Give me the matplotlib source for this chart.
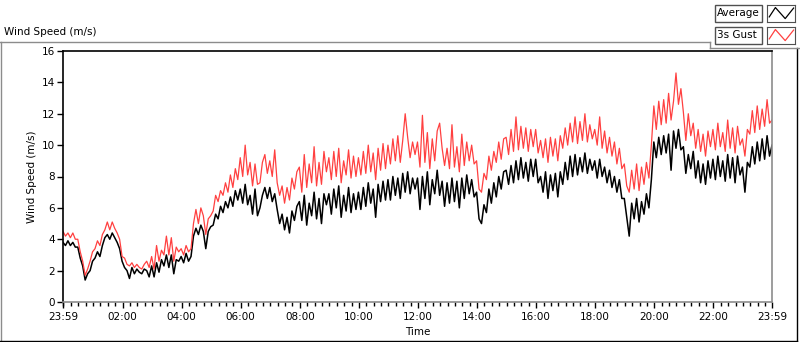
import numpy as np
import matplotlib.pyplot as plt
from matplotlib.patches import Rectangle
from matplotlib.lines import Line2D

# 5-minute samples from 23:59 to 23:59 (minutes since start)
minutes = np.arange(0, 1441, 5)

# Average wind speed (m/s), one row per hour
avg_speed = [
    3.8, 3.6, 3.9, 3.6, 3.8, 3.5, 3.5, 2.8, 2.3, 1.4, 1.8, 2.0,
    2.6, 2.8, 3.2, 2.9, 3.6, 4.1, 4.3, 4.0, 4.4, 4.1, 3.8, 3.4,
    2.6, 2.2, 2.0, 1.5, 2.2, 1.8, 2.1, 1.9, 1.8, 2.1, 2.0, 1.6,
    2.3, 1.6, 2.5, 1.9, 2.7, 2.3, 3.0, 2.2, 3.0, 1.8, 2.7, 2.6,
    2.9, 2.5, 3.1, 2.6, 2.9, 4.2, 4.7, 4.3, 4.9, 4.5, 3.4, 4.5,
    4.8, 4.9, 5.6, 5.3, 6.1, 5.7, 6.4, 6.0, 6.7, 6.1, 7.1, 6.5,
    7.2, 6.3, 7.5, 6.2, 6.8, 5.6, 7.2, 5.5, 6.0, 6.8, 7.3, 6.6,
    7.3, 6.4, 6.9, 5.9, 5.0, 5.6, 4.6, 5.4, 4.4, 5.8, 5.2, 6.1,
    6.4, 5.2, 6.8, 4.9, 6.3, 5.5, 7.0, 5.3, 6.6, 5.0, 6.9, 6.2,
    6.9, 5.6, 7.2, 6.0, 7.4, 5.4, 6.8, 5.8, 7.3, 5.7, 6.9, 5.9,
    7.0, 5.9, 7.3, 6.1, 7.6, 6.3, 7.2, 5.4, 7.5, 6.4, 7.7, 6.5,
    7.8, 6.5, 8.0, 6.8, 7.9, 6.6, 8.2, 7.0, 8.3, 6.9, 7.9, 7.2,
    7.9, 5.9, 8.0, 6.6, 8.3, 6.2, 7.8, 6.9, 8.4, 6.8, 7.7, 6.1,
    7.6, 6.3, 7.9, 6.4, 7.7, 6.0, 7.9, 6.6, 8.1, 6.9, 7.8, 6.7,
    7.0, 5.3, 5.0, 6.2, 5.7, 7.2, 6.3, 7.6, 6.7, 8.0, 7.2, 8.3,
    8.4, 7.5, 8.7, 7.6, 9.0, 7.8, 9.2, 7.9, 8.9, 7.7, 9.1, 8.0,
    9.1, 7.6, 8.0, 7.0, 8.3, 6.6, 8.1, 7.1, 8.2, 6.7, 8.3, 7.5,
    8.9, 7.8, 9.3, 8.0, 9.4, 8.1, 9.2, 8.3, 9.5, 8.2, 9.1, 8.4,
    9.0, 7.9, 9.1, 8.0, 8.6, 7.6, 8.4, 7.3, 8.0, 7.0, 7.8, 6.6,
    6.6, 5.4, 4.2, 6.3, 5.3, 6.6, 5.1, 6.4, 5.6, 6.9, 6.0, 7.8,
    10.2, 9.2, 10.5, 9.4, 10.6, 9.5, 10.7, 8.4, 10.9, 9.8, 11.0, 9.7,
    9.9, 8.2, 9.4, 8.5, 9.6, 7.9, 9.0, 7.6, 8.8, 7.5, 9.0, 7.9,
    9.1, 7.8, 9.3, 8.0, 9.0, 7.7, 9.4, 7.9, 9.2, 7.6, 9.3, 8.1,
    8.6, 7.0, 8.9, 8.6, 9.9, 8.8, 10.2, 9.0, 10.4, 9.1, 10.6, 9.3,
    10.0,
]

# 3 second gust (m/s), one row per hour
gust_speed = [
    4.5, 4.2, 4.4, 4.1, 4.4, 4.0, 4.0, 3.2, 2.6, 1.7, 2.1, 2.6,
    3.2, 3.4, 3.9, 3.6, 4.3, 4.6, 5.1, 4.6, 5.1, 4.7, 4.4, 4.0,
    2.9, 2.8, 2.4, 2.3, 2.5, 2.2, 2.4, 2.2, 2.1, 2.4, 2.6, 2.2,
    2.9, 2.1, 3.6, 2.6, 3.3, 3.0, 4.2, 3.0, 4.1, 2.6, 3.5, 3.2,
    3.4, 3.0, 3.6, 3.2, 3.4, 5.0, 5.9, 5.0, 6.0, 5.5, 4.3, 5.3,
    5.5, 5.8, 6.8, 6.4, 7.1, 6.8, 7.6, 7.0, 8.1, 7.3, 8.5, 7.8,
    9.2, 8.0, 10.0, 8.1, 8.9, 7.4, 8.8, 7.5, 7.6, 8.9, 9.4, 8.2,
    9.0, 8.0, 9.7, 7.6, 6.8, 7.4, 6.3, 7.3, 6.5, 7.9, 7.2, 8.3,
    8.6, 7.0, 9.4, 7.3, 8.8, 7.6, 9.9, 7.4, 8.9, 7.5, 9.6, 8.3,
    9.2, 7.8, 9.6, 8.0, 9.8, 7.6, 9.0, 8.1, 9.7, 7.9, 9.3, 8.0,
    9.2, 8.1, 9.6, 8.2, 10.0, 8.3, 9.5, 7.8, 9.8, 8.4, 10.1, 8.5,
    10.0, 8.8, 10.4, 9.0, 10.6, 8.9, 10.3, 12.0, 10.5, 9.2, 10.2, 9.4,
    10.2, 8.6, 11.9, 8.9, 10.8, 8.5, 10.4, 9.0, 10.9, 11.4, 9.8, 8.7,
    9.8, 8.5, 11.3, 8.6, 9.9, 8.3, 10.7, 8.7, 10.2, 9.0, 10.0, 8.8,
    9.0, 7.2, 7.0, 8.2, 7.8, 9.3, 8.4, 9.6, 8.9, 10.2, 9.1, 10.4,
    10.5, 9.4, 11.0, 9.6, 11.8, 9.7, 11.2, 9.8, 11.1, 9.6, 11.0, 9.9,
    11.0, 9.5, 10.3, 9.2, 10.4, 8.9, 10.5, 9.3, 10.4, 9.0, 10.6, 9.8,
    11.1, 10.0, 11.4, 10.2, 11.8, 10.1, 11.5, 10.3, 12.0, 10.2, 11.3, 10.4,
    11.0, 10.0, 11.8, 9.8, 10.9, 9.5, 10.5, 9.3, 10.2, 8.8, 9.8, 8.5,
    8.8, 7.4, 7.0, 8.4, 7.2, 8.8, 7.1, 8.6, 7.5, 8.9, 7.9, 10.0,
    12.5, 11.0, 12.8, 11.3, 12.9, 11.4, 13.3, 11.6, 12.8, 14.6, 12.6, 13.6,
    12.1, 10.3, 12.0, 10.6, 11.4, 9.8, 11.0, 9.6, 10.7, 9.3, 10.9, 9.9,
    11.0, 9.7, 11.4, 9.9, 10.8, 9.6, 11.6, 9.8, 11.1, 9.5, 11.2, 10.0,
    10.4, 9.3, 11.0, 10.7, 12.2, 10.8, 12.5, 11.0, 12.3, 11.2, 12.9, 11.4,
    11.6,
]

tick_minutes = [0, 121, 241, 361, 481, 601, 721, 841, 961, 1081, 1201, 1321, 1440]
tick_labels = ['23:59', '02:00', '04:00', '06:00', '08:00', '10:00', '12:00',
               '14:00', '16:00', '18:00', '20:00', '22:00', '23:59']
minor_minutes = np.arange(1, 1440, 15)
y_ticks = [0, 2, 4, 6, 8, 10, 12, 14, 16]

series_names = ['Average', '3s Gust']
series_colors = ['black', '#ff4040']
icon_x = [0.08, 0.3, 0.65, 0.95]
icon_y = [0.3, 0.85, 0.2, 0.82]

W, H = 800, 342
plt.rcParams['font.family'] = 'DejaVu Sans'
fig = plt.figure(figsize=(W / 100, H / 100), dpi=100)


def fx(x):
    return x / W


def fy(y):
    return 1 - y / H


ax = fig.add_axes([fx(63), fy(302), fx(772) - fx(63), fy(51) - fy(302)])
ax.plot(minutes, avg_speed, color=series_colors[0], lw=1.1)
ax.plot(minutes, gust_speed, color=series_colors[1], lw=0.9)

ax.set_xlim(0, 1440)
ax.set_ylim(0, 16)
ax.set_xticks(tick_minutes)
ax.set_xticklabels(tick_labels)
ax.set_xticks(minor_minutes, minor=True)
ax.set_yticks(y_ticks)
ax.tick_params(axis='both', labelsize=7.5, direction='out', length=4, width=1, pad=1.5)
ax.tick_params(axis='x', which='major', pad=3.5)
ax.tick_params(axis='x', which='minor', length=3, width=1)
ax.spines['left'].set_color('black')
ax.spines['top'].set_color('black')
ax.spines['right'].set_color('#8c8c8c')
ax.spines['bottom'].set_color('#8c8c8c')
for s in ax.spines.values():
    s.set_linewidth(1.2)
ax.set_xlabel('Time', fontsize=7.5, labelpad=3)
ax.set_ylabel('Wind Speed (m/s)', fontsize=7.5, labelpad=4)

# chart title and outer frame
fig.text(fx(4), fy(32), 'Wind Speed (m/s)', fontsize=7.5, va='center', ha='left')
fig.add_artist(Line2D([fx(0), fx(710)], [fy(42), fy(42)], color='#8c8c8c', lw=1))
fig.add_artist(Line2D([fx(0.5), fx(0.5)], [fy(42), fy(341)], color='#8c8c8c', lw=1))
fig.add_artist(Line2D([fx(0), fx(797)], [fy(341), fy(341)], color='black', lw=1))
fig.add_artist(Line2D([fx(797), fx(797)], [fy(48), fy(341)], color='black', lw=1))
fig.add_artist(Line2D([fx(710), fx(799)], [fy(48), fy(48)], color='#8c8c8c', lw=1))
fig.add_artist(Line2D([fx(710), fx(710)], [fy(42), fy(48)], color='#8c8c8c', lw=1))

# legend
for i, (name, color) in enumerate(zip(series_names, series_colors)):
    top = 5 + i * 22
    fig.add_artist(Rectangle((fx(715), fy(top + 17)), fx(762) - fx(715), fy(top) - fy(top + 17),
                             facecolor='white', edgecolor='#505050', lw=1))
    fig.text(fx(717), fy(top + 8.5), name, fontsize=7.5, va='center', ha='left')
    iax = fig.add_axes([fx(767), fy(top + 17), fx(795) - fx(767), fy(top) - fy(top + 17)])
    iax.plot(icon_x, icon_y, color=color, lw=0.9)
    iax.set_xlim(0, 1)
    iax.set_ylim(0, 1)
    iax.set_xticks([])
    iax.set_yticks([])
    for s in iax.spines.values():
        s.set_color('#505050')

fig.savefig('out.png', dpi=100)
